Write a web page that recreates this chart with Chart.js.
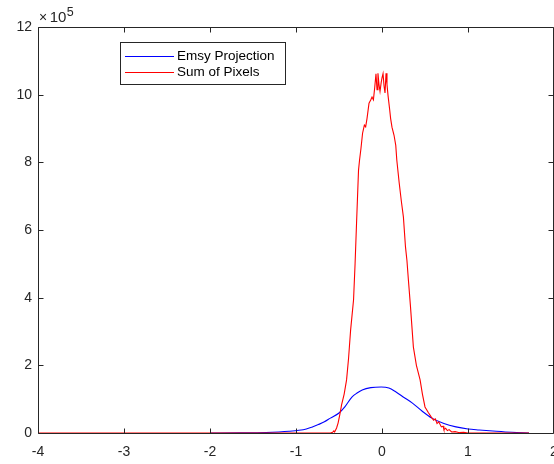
<!DOCTYPE html>
<html>
<head>
<meta charset="utf-8">
<script src="https://cdn.jsdelivr.net/npm/chart.js@4/dist/chart.umd.min.js"></script>
<style>
  html, body { margin: 0; padding: 0; background: #ffffff; }
  #plot { display: block; }
</style>
</head>
<body>
<canvas id="plot" width="554" height="464"></canvas>
<script>
// Values are in units of 10^5 (shown by the exponent label on the y axis).
const yExponent = 5;

// Sum of Pixels profile
const sumX = [-4, -1.0, -0.6, -0.575, -0.56, -0.551, -0.528, -0.51, -0.49, -0.47, -0.44, -0.412,
  -0.389, -0.365, -0.331, -0.313, -0.296, -0.273, -0.261, -0.245, -0.226, -0.205,
  -0.19, -0.174, -0.151, -0.13, -0.116, -0.1, -0.085, -0.07, -0.058, -0.047, -0.035, -0.023,
  -0.01, 0.0, 0.012, 0.024, 0.035, 0.047, 0.058, 0.07, 0.09, 0.1, 0.116, 0.14, 0.16, 0.172,
  0.2, 0.225, 0.249, 0.273, 0.29, 0.307, 0.33, 0.365, 0.4, 0.443,
  0.47, 0.5, 0.54, 0.574, 0.6, 0.62, 0.64, 0.66, 0.69, 0.71, 0.72, 0.74, 0.76, 0.78, 0.81,
  0.85, 0.9, 0.95, 1.0, 1.71];
const sumOfPixels = [0, 0, 0, 0.02, 0.06, 0.03, 0.15, 0.3, 0.55, 0.83, 1.15, 1.57,
  2.2, 3.04, 3.93, 5.0, 6.2, 7.77, 8.07, 8.4, 8.86, 9.1,
  9.05, 9.3, 9.75, 9.85, 9.93, 9.85, 10.2, 10.62, 10.15, 10.63, 10.3, 10.1,
  10.35, 10.5, 10.62, 10.25, 10.05, 10.63, 10.3, 9.98, 9.54, 9.3, 9.04, 8.8, 8.5, 8.07,
  7.39, 6.85, 6.38, 5.5, 5.1, 4.52, 3.78, 2.54, 2.0, 1.57,
  1.15, 0.77, 0.6, 0.47, 0.38, 0.42, 0.28, 0.33, 0.18, 0.2, 0.1, 0.14, 0.07, 0.1, 0.03,
  0.04, 0.01, 0.02, 0, 0];

// Emsy Projection profile
const emsyX = [-2.0, -1.66, -1.35, -1.2, -1.08, -0.965, -0.88, -0.81, -0.74, -0.67, -0.6, -0.5,
  -0.43, -0.35, -0.29, -0.23, -0.13, -0.01, 0.08, 0.163, 0.256, 0.35, 0.465, 0.58, 0.72,
  0.86, 1.0, 1.13, 1.33, 1.51, 1.71];
const emsyProjection = [0, 0.005, 0.015, 0.03, 0.05, 0.08, 0.12, 0.18, 0.25, 0.33, 0.44, 0.59,
  0.78, 1.06, 1.18, 1.27, 1.34, 1.36, 1.33, 1.21, 1.05, 0.89, 0.65, 0.44, 0.28,
  0.18, 0.12, 0.09, 0.05, 0.02, 0];

// Axis ticks
const xTicks = [-4, -3, -2, -1, 0, 1, 2];
const yTicks = [0, 2, 4, 6, 8, 10, 12];

const seriesNames = ['Emsy Projection', 'Sum of Pixels'];
const seriesColors = ['#0000ff', '#ff0000'];

const axisColor = '#262626';
const fontFamily = '"Liberation Sans", Arial, Helvetica, sans-serif';

const toPoints = (xs, ys) => xs.map((v, i) => ({ x: v, y: ys[i] }));

// Box around the axes with inward tick marks on all four sides,
// plus the exponent label and the legend.
const axesBox = {
  id: 'axesBox',
  afterDatasetsDraw(chart) {
    const { ctx, chartArea: a, scales: { x, y } } = chart;
    const L = Math.round(a.left) + 0.5;
    const R = Math.round(a.right) - 0.5;
    const T = Math.round(a.top) + 0.5;
    const B = Math.round(a.bottom) + 0.5;
    const tick = 5;
    ctx.save();
    ctx.strokeStyle = axisColor;
    ctx.lineWidth = 1;
    ctx.beginPath();
    ctx.moveTo(L, T); ctx.lineTo(R, T); ctx.lineTo(R, B); ctx.lineTo(L, B); ctx.closePath();
    xTicks.forEach(v => {
      const px = Math.round(x.getPixelForValue(v)) + 0.5;
      ctx.moveTo(px, B); ctx.lineTo(px, B - tick);
      ctx.moveTo(px, T); ctx.lineTo(px, T + tick);
    });
    yTicks.forEach(v => {
      const py = Math.round(y.getPixelForValue(v)) + 0.5;
      ctx.moveTo(L, py); ctx.lineTo(L + tick, py);
      ctx.moveTo(R, py); ctx.lineTo(R - tick, py);
    });
    ctx.stroke();
    ctx.restore();
  },
  afterDraw(chart) {
    const { ctx, chartArea: a } = chart;
    ctx.save();
    // exponent label: ×10^5
    ctx.fillStyle = axisColor;
    ctx.textBaseline = 'alphabetic';
    ctx.textAlign = 'left';
    ctx.font = '14px ' + fontFamily;
    let cx = a.left + 1;
    ctx.fillText('\u00d7', cx, a.top - 5);
    cx += ctx.measureText('\u00d7').width + 2.5;
    ctx.font = '15px ' + fontFamily;
    ctx.fillText('10', cx, a.top - 5);
    cx += ctx.measureText('10').width + 0.5;
    ctx.font = '12.5px ' + fontFamily;
    ctx.fillText(String(yExponent), cx, a.top - 11);

    // legend
    const bx = 120.5, by = 42.5, bw = 165, bh = 42;
    ctx.fillStyle = '#ffffff';
    ctx.fillRect(bx, by, bw, bh);
    ctx.strokeStyle = axisColor;
    ctx.lineWidth = 1;
    ctx.strokeRect(bx, by, bw, bh);
    ctx.font = '13.5px ' + fontFamily;
    ctx.textBaseline = 'middle';
    chart.data.datasets.forEach((ds, i) => {
      const rowY = 55.5 + i * 16.5;
      ctx.strokeStyle = ds.borderColor;
      ctx.beginPath();
      ctx.moveTo(125, Math.round(rowY) + 0.5);
      ctx.lineTo(174, Math.round(rowY) + 0.5);
      ctx.stroke();
      ctx.fillStyle = '#000000';
      ctx.fillText(ds.label, 177, rowY + 0.5);
    });
    ctx.restore();
  }
};

new Chart(document.getElementById('plot'), {
  type: 'line',
  data: {
    datasets: [
      {
        label: seriesNames[0],
        data: toPoints(emsyX, emsyProjection),
        borderColor: seriesColors[0],
        borderWidth: 1.1,
        pointRadius: 0,
        cubicInterpolationMode: 'monotone',
        fill: false,
        order: 1
      },
      {
        label: seriesNames[1],
        data: toPoints(sumX, sumOfPixels),
        borderColor: seriesColors[1],
        borderWidth: 1.1,
        pointRadius: 0,
        tension: 0,
        fill: false,
        order: 0
      }
    ]
  },
  options: {
    responsive: false,
    animation: false,
    devicePixelRatio: 1,
    layout: { autoPadding: false, padding: { top: 27, right: 0, left: 0, bottom: 0 } },
    plugins: { legend: { display: false }, tooltip: { enabled: false } },
    scales: {
      x: {
        type: 'linear',
        min: -4, max: 2,
        afterFit(s) { s.height = 31; s.paddingLeft = 0; s.paddingRight = 0; },
        afterBuildTicks(s) { s.ticks = xTicks.map(v => ({ value: v })); },
        grid: { display: false, drawTicks: false },
        border: { display: false },
        ticks: {
          color: axisColor, padding: 11, maxRotation: 0, autoSkip: false,
          font: { family: fontFamily, size: 14 }
        }
      },
      y: {
        type: 'linear',
        min: 0, max: 12,
        afterFit(s) { s.width = 38; s.paddingTop = 0; s.paddingBottom = 0; },
        afterBuildTicks(s) { s.ticks = yTicks.map(v => ({ value: v })); },
        grid: { display: false, drawTicks: false },
        border: { display: false },
        ticks: {
          color: axisColor, padding: 6, autoSkip: false,
          font: { family: fontFamily, size: 14 }
        }
      }
    }
  },
  plugins: [axesBox]
});
</script>
</body>
</html>
